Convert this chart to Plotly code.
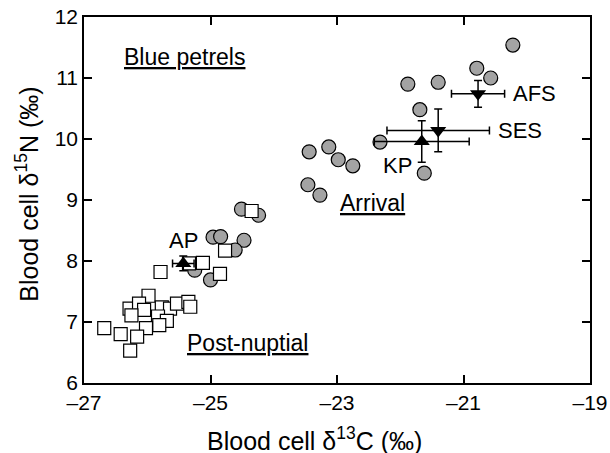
import plotly.graph_objects as go

# Arrival (grey circles)
arr_x = [-20.22, -20.79, -20.57, -21.88, -21.40, -21.69, -22.32, -21.62,
         -23.44, -23.13, -22.98, -22.75, -23.46, -23.27,
         -24.51, -24.24, -24.96, -24.84, -24.47, -24.61, -25.25, -25.00]
arr_y = [11.54, 11.16, 11.00, 10.90, 10.93, 10.48, 9.95, 9.44,
         9.79, 9.87, 9.66, 9.56, 9.25, 9.08,
         8.85, 8.75, 8.39, 8.40, 8.34, 8.18, 7.85, 7.69]

# Post-nuptial (open squares)
post_x = [-24.35, -24.77, -25.12, -25.34, -25.79, -24.85, -25.98, -26.28,
          -26.13, -26.05, -26.25, -25.77, -25.64, -25.53, -25.35, -25.32,
          -25.83, -25.69, -25.81, -26.02, -26.16, -26.42, -26.68, -26.27]
post_y = [8.82, 8.17, 7.97, 7.96, 7.82, 7.79, 7.43, 7.22,
          7.30, 7.20, 7.11, 7.24, 7.22, 7.30, 7.33, 7.25,
          7.09, 7.02, 6.95, 6.90, 6.76, 6.80, 6.90, 6.53]

# Prey means (triangles) with SD
prey_names = ["AFS", "SES", "KP", "AP"]
prey_x = [-20.77, -21.40, -21.66, -25.43]
prey_y = [10.74, 10.14, 9.96, 7.96]
prey_sx = [0.42, 0.81, 0.75, 0.17]
prey_sy = [0.22, 0.35, 0.34, 0.12]
prey_sym = ["triangle-down", "triangle-down", "triangle-up", "triangle-up"]

x_ticks = [-27, -25, -23, -21, -19]
y_ticks = [6, 7, 8, 9, 10, 11, 12]

FONT = "Liberation Sans, Arial, sans-serif"

fig = go.Figure()
fig.add_trace(go.Scatter(
    x=arr_x, y=arr_y, mode="markers",
    marker=dict(symbol="circle", size=14, color="#a3a3a3",
                line=dict(color="black", width=1.2)),
    showlegend=False))
fig.add_trace(go.Scatter(
    x=post_x, y=post_y, mode="markers",
    marker=dict(symbol="square", size=13, color="white",
                line=dict(color="black", width=1.2)),
    showlegend=False))
fig.add_trace(go.Scatter(
    x=prey_x, y=prey_y, mode="markers",
    marker=dict(symbol=prey_sym, size=14, color="black",
                line=dict(color="black", width=0)),
    error_x=dict(type="data", array=prey_sx, color="black", thickness=1.5, width=4),
    error_y=dict(type="data", array=prey_sy, color="black", thickness=1.5, width=4),
    showlegend=False))

# Labels for prey
for n, x, y, sx in zip(prey_names, prey_x, prey_y, prey_sx):
    if n in ("AFS", "SES"):
        kw = dict(x=x + sx + 0.1, y=y, xanchor="left")
    elif n == "KP":
        kw = dict(x=x - 0.38, y=y - 0.39, xanchor="center")
    else:
        kw = dict(x=x, y=y + 0.37, xanchor="center")
    fig.add_annotation(text=n, showarrow=False, yanchor="middle",
                       font=dict(family=FONT, size=22, color="black"), **kw)

group_labels = ["Blue petrels", "Arrival", "Post-nuptial"]
group_x = [-26.40, -22.99, -25.40]
group_y = [11.35, 8.95, 6.66]
for t, x, y in zip(group_labels, group_x, group_y):
    fig.add_annotation(x=x, y=y, text="<u>" + t + "</u>", showarrow=False,
                       xanchor="left", yanchor="middle",
                       font=dict(family=FONT, size=23, color="black"))

# Axis titles
fig.add_annotation(xref="paper", yref="paper", x=0.4565, y=-0.153,
                   text="Blood cell \u03b4<sup>13</sup>C (\u2030)", showarrow=False,
                   xanchor="center", yanchor="middle",
                   font=dict(family=FONT, size=25, color="black"))
fig.add_annotation(xref="paper", yref="paper", x=-0.1115, y=0.516,
                   text="Blood cell \u03b4<sup>15</sup>N (\u2030)", showarrow=False,
                   xanchor="center", yanchor="middle", textangle=-90,
                   font=dict(family=FONT, size=25, color="black"))

axis_common = dict(showline=True, linecolor="black", linewidth=1.5, mirror="allticks",
                   ticks="inside", ticklen=8, tickwidth=1.5, tickcolor="black",
                   showgrid=False, zeroline=False, automargin=False,
                   tickfont=dict(family=FONT, size=21, color="black"))
fig.update_xaxes(range=[-27, -19], tickvals=x_ticks,
                 ticktext=["\u2013" + str(abs(v)) for v in x_ticks],
                 **axis_common)
fig.update_yaxes(range=[6, 12], tickvals=y_ticks, **axis_common)

fig.update_layout(width=610, height=453,
                  margin=dict(l=84, r=20, t=17, b=70),
                  plot_bgcolor="white", paper_bgcolor="white")

fig.write_html("out.html", config={"displayModeBar": False},
               post_script="document.body.style.margin='0';document.body.style.padding='0';")
